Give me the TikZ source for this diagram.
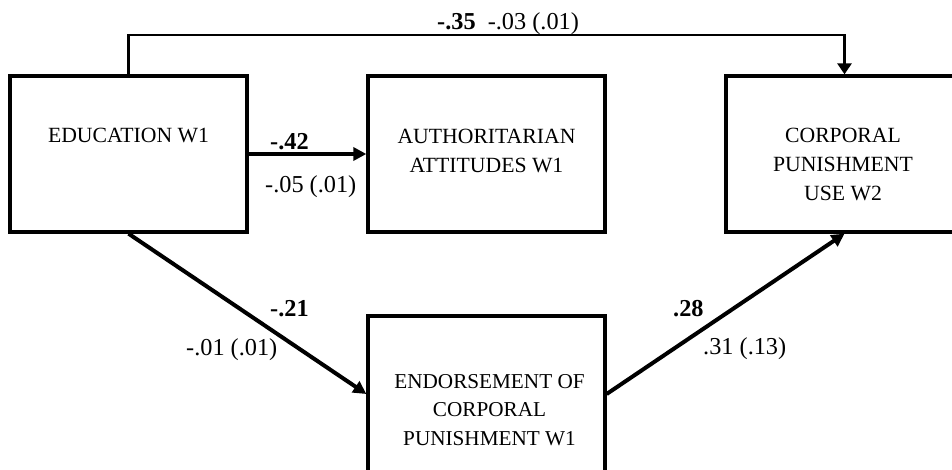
\documentclass[tikz,border=0pt]{standalone}
\usepackage{fontspec}
\setmainfont{Liberation Serif}
\usetikzlibrary{arrows.meta, positioning, calc}

\tikzset{
    box/.style={draw, line width=3.3pt, inner sep=0pt, minimum width=237pt, minimum height=156pt},
    boxtxt/.style={align=center, inner sep=0pt, anchor=base, font=\fontsize{21.7}{29}\selectfont},
    coef/.style={inner sep=0pt, anchor=base west, font=\fontsize{24.3}{28}\selectfont},
    path/.style={line width=4pt, -{Triangle[length=13pt, width=13pt]}},
    thinpath/.style={line width=2.7pt, -{Triangle[length=11pt, width=14pt]}}
}

\begin{document}
\begin{tikzpicture}[x=1pt, y=-1pt]
    \useasboundingbox (0,0) rectangle (952,470);
    \clip (0,0) rectangle (952,470);

    % Boxes
    \node[box] (edu) at (128.5,154) {};
    \node[box] (auth) at (486.5,154) {};
    \node[box] (corp) at (844.5,154) {};
    \node[box] (endo) at (486.5,394) {};

    % Box texts (anchored at the baseline of the last line)
    \node[boxtxt] (edutxt) at (128.5,143) {EDUCATION W1};
    \node[boxtxt] (authtxt) at (486.5,173) {AUTHORITARIAN\\ATTITUDES W1};
    \node[boxtxt] (corptxt) at (843,201) {CORPORAL\\PUNISHMENT\\USE W2};
    \node[boxtxt, font=\fontsize{21.2}{28.5}\selectfont] (endotxt) at (489.5,445) {ENDORSEMENT OF\\CORPORAL\\PUNISHMENT W1};

    % Paths
    \coordinate (top) at (844.5,35);
    \draw[thinpath] (edu.north) |- (top) -- (corp.north);
    \draw[path] (edu.east) -- (auth.west);
    \draw[path] (edu.south) -- (endo.west);
    \draw[path] (endo.east) -- (corp.south);

    % Coefficients
    \node[coef] (c1) at (437,30) {\textbf{-.35}\ \ -.03 (.01)};
    \node[coef] (c2) at (270,150) {\textbf{-.42}};
    \node[coef] (c3) at (265,193) {-.05 (.01)};
    \node[coef] (c4) at (270,316) {\textbf{-.21}};
    \node[coef] (c5) at (186,355) {-.01 (.01)};
    \node[coef] (c6) at (673,316) {\textbf{.28}};
    \node[coef] (c7) at (703,354) {.31 (.13)};
\end{tikzpicture}
\end{document}
